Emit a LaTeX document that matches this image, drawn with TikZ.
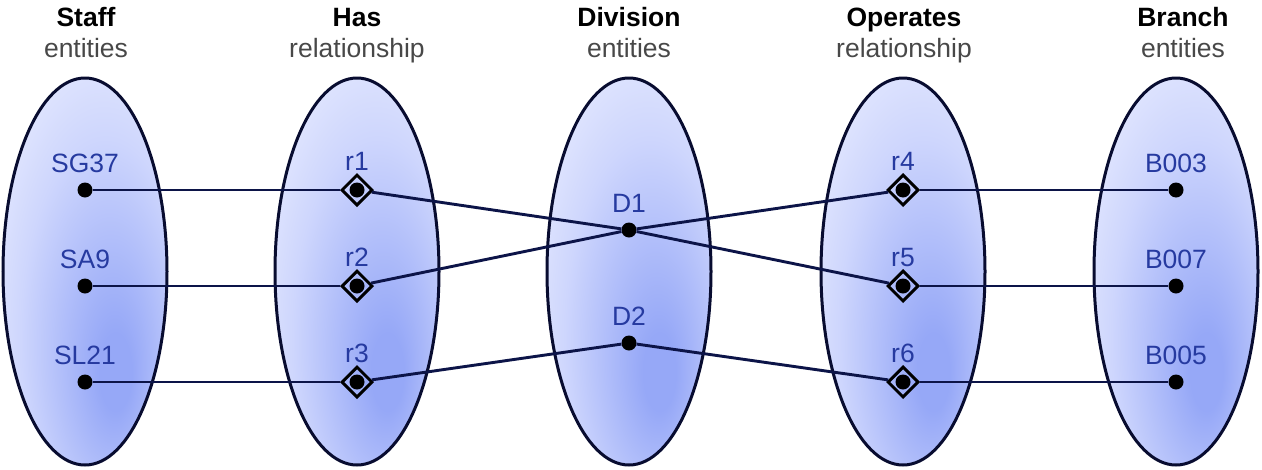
\documentclass[tikz,border=0pt]{standalone}
\usepackage{fontspec}
\setmainfont{Liberation Sans}
\usetikzlibrary{shapes.geometric}
\definecolor{inblue}{RGB}{150,168,247}
\definecolor{midblue}{RGB}{206,214,253}
\definecolor{outblue}{RGB}{244,246,255}
\definecolor{lnavy}{RGB}{12,20,72}
\definecolor{onavy}{RGB}{8,12,48}
\definecolor{lblue}{RGB}{38,58,160}
\definecolor{subgray}{RGB}{72,72,72}
\pgfdeclareradialshading{ellshade}{\pgfpoint{10bp}{-14bp}}{%
  color(0bp)=(inblue); color(5bp)=(inblue); color(26bp)=(midblue); color(46bp)=(outblue); color(70bp)=(outblue)}
\begin{document}
\begin{tikzpicture}[x=1pt,y=-1pt,
  every node/.style={font=\fontsize{26.5}{31}\selectfont},
  ell/.style={draw=onavy,line width=3pt,shading=ellshade},
  dotnode/.style={circle,fill=black,inner sep=0pt,minimum size=15pt},
  relnode/.style={diamond,draw=black,line width=3pt,inner sep=0pt,minimum size=31pt},
  conn/.style={draw=lnavy,line width=2.9pt},
  lbl/.style={text=lblue,anchor=base},
  head/.style={anchor=base,font=\fontsize{26.5}{31}\selectfont\bfseries},
  sub/.style={anchor=base,text=subgray}]
\useasboundingbox (0,0) rectangle (1262,469);
% ellipses
\foreach \cx in {85,357,629,903,1176}{
  \path[ell] (\cx,271.5) ellipse [x radius=82, y radius=193.5];
}
% headers
\node[head] (hs) at (86,26) {Staff};
\node[sub] (ss) at (86,57) {entities};
\node[head] (hh) at (357,26) {Has};
\node[sub] (sh) at (357,57) {relationship};
\node[head] (hd) at (629,26) {Division};
\node[sub] (sd) at (629,57) {entities};
\node[head] (ho) at (904,26) {Operates};
\node[sub] (so) at (904,57) {relationship};
\node[head] (hb) at (1183,26) {Branch};
\node[sub] (sb) at (1183,57) {entities};
% staff
\node[dotnode] (s1) at (85,190) {};
\node[dotnode] (s2) at (85,286) {};
\node[dotnode] (s3) at (85,382) {};
\node[lbl] (ls1) at (85,172) {SG37};
\node[lbl] (ls2) at (85,268) {SA9};
\node[lbl] (ls3) at (85,364) {SL21};
% has
\node[relnode] (r1) at (357,190) {};
\node[relnode] (r2) at (357,286) {};
\node[relnode] (r3) at (357,382) {};
\node[dotnode] (r1d) at (357,190) {};
\node[dotnode] (r2d) at (357,286) {};
\node[dotnode] (r3d) at (357,382) {};
\node[lbl] (lr1) at (357,170) {r1};
\node[lbl] (lr2) at (357,266) {r2};
\node[lbl] (lr3) at (357,362) {r3};
% division
\node[dotnode] (d1) at (629,230) {};
\node[dotnode] (d2) at (629,343) {};
\node[lbl] (ld1) at (629,212) {D1};
\node[lbl] (ld2) at (629,325) {D2};
% operates
\node[relnode] (r4) at (903,190) {};
\node[relnode] (r5) at (903,286) {};
\node[relnode] (r6) at (903,382) {};
\node[dotnode] (r4d) at (903,190) {};
\node[dotnode] (r5d) at (903,286) {};
\node[dotnode] (r6d) at (903,382) {};
\node[lbl] (lr4) at (903,170) {r4};
\node[lbl] (lr5) at (903,266) {r5};
\node[lbl] (lr6) at (903,362) {r6};
% branch
\node[dotnode] (b1) at (1176,190) {};
\node[dotnode] (b2) at (1176,286) {};
\node[dotnode] (b3) at (1176,382) {};
\node[lbl] (lb1) at (1176,172) {B003};
\node[lbl] (lb2) at (1176,268) {B007};
\node[lbl] (lb3) at (1176,364) {B005};
% connectors
\path[conn] (s1) -- (r1);
\path[conn] (s2) -- (r2);
\path[conn] (s3) -- (r3);
\path[conn] (r1) -- (d1);
\path[conn] (r2) -- (d1);
\path[conn] (r3) -- (d2);
\path[conn] (d1) -- (r4);
\path[conn] (d1) -- (r5);
\path[conn] (d2) -- (r6);
\path[conn] (r4) -- (b1);
\path[conn] (r5) -- (b2);
\path[conn] (r6) -- (b3);
\end{tikzpicture}
\end{document}
